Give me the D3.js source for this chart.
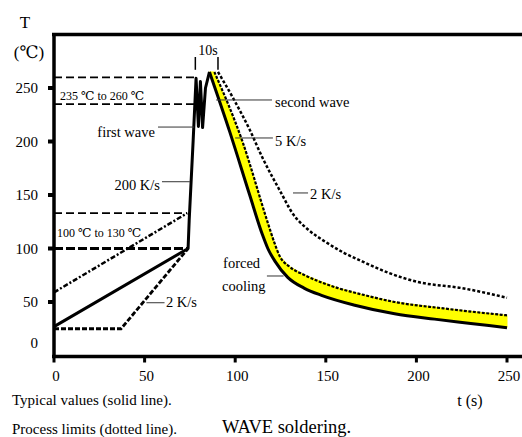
<!DOCTYPE html>
<html>
<head>
<meta charset="utf-8">
<script src="https://cdn.jsdelivr.net/npm/d3@7"></script>
<style>
  body { margin: 0; background: #fff; }
  svg text { font-family: Liberation Serif, Times New Roman, DejaVu Serif, serif; }
</style>
</head>
<body>
<div id="viz"></div>
<script>
// time ticks (s) and temperature ticks (degC)
var tTicks = [0, 50, 100, 150, 200, 250];
var tempTicks = [0, 50, 100, 150, 200, 250];

// typical profile (solid line): preheat, first wave, second wave, cooling
var typical = [[0, 27], [74, 100], [74.6, 126], [76.8, 201], [78.4, 259], [79.7, 214], [80.8, 256],
  [82, 213], [83.6, 250], [85.8, 265], [97, 209], [108, 150], [115, 113], [118, 100], [122, 88],
  [129, 73], [138, 63], [148, 56], [166, 47], [188, 39], [210, 34], [230, 30], [250, 26]];
var typicalPeak = 9; // index of the peak in typical

// process limits (dotted lines)
var fastPreheat = [[0, 59], [73.5, 133]];
var slowPreheat = [[0, 25], [37, 25], [74, 100]];
var cool5 = [[88.5, 265], [104, 200], [118, 124], [121.5, 106], [124.5, 93], [130, 83], [138.5, 75],
  [156.7, 63], [170, 57], [188, 50], [215, 44], [250, 37.5]];
var cool2 = [[90.5, 265], [100, 237], [108, 211], [115, 185], [125, 153], [132, 132], [140, 118],
  [150, 106], [160, 96], [170, 88], [185, 77], [200, 69], [225, 63], [250, 54]];

// dashed level lines (degC) and where they stop (s)
var levels = [260, 235, 133, 100];
var levelEnds = [78, 78, 73.5, 74];

// "10s" marker
var tenS = [78, 90.5];

var W = 522, H = 437;
var x = d3.scaleLinear().domain([0, 258]).range([54, 521.5]);
var y = d3.scaleLinear().domain([0, 300]).range([355.5, 34.5]);

var svg = d3.select("#viz").append("svg").attr("width", W).attr("height", H);

var lin = d3.line().x(function(d) { return x(d[0]); }).y(function(d) { return y(d[1]); });
var smooth = d3.line().x(function(d) { return x(d[0]); }).y(function(d) { return y(d[1]); }).curve(d3.curveMonotoneX);

// dashed levels
svg.selectAll("line.level").data(levels).enter().append("line")
  .attr("class", "level")
  .attr("x1", x(0)).attr("x2", function(d, i) { return x(levelEnds[i]); })
  .attr("y1", function(d) { return y(d); }).attr("y2", function(d) { return y(d); })
  .style("stroke", "#000")
  .style("stroke-width", function(d) { return d === 100 ? 3 : 1.8; })
  .style("stroke-dasharray", function(d) { return d === 100 ? "9,3" : "8,4"; });

// yellow band between typical cooling and 5 K/s limit
var band = typical.slice(typicalPeak).concat(cool5.slice().reverse());
svg.append("path").attr("d", lin(band) + "Z")
  .style("fill", "#ffff00").style("stroke", "#ffff00").style("stroke-width", 1);

// preheat limits
svg.append("path").attr("d", lin(fastPreheat))
  .style("fill", "none").style("stroke", "#000").style("stroke-width", 2.5)
  .style("stroke-dasharray", "5,2,2,2");
svg.append("path").attr("d", lin(slowPreheat))
  .style("fill", "none").style("stroke", "#000").style("stroke-width", 2.8)
  .style("stroke-dasharray", "5,2");

// cooling limits
svg.append("path").attr("d", smooth(cool5))
  .style("fill", "none").style("stroke", "#000").style("stroke-width", 2.2)
  .style("stroke-dasharray", "3,1.5");
svg.append("path").attr("d", smooth(cool2))
  .style("fill", "none").style("stroke", "#000").style("stroke-width", 2.5)
  .style("stroke-dasharray", "3,2");

// typical profile
svg.append("path").attr("d", lin(typical.slice(0, typicalPeak + 1)))
  .style("fill", "none").style("stroke", "#000").style("stroke-width", 3)
  .style("stroke-linejoin", "round");
svg.append("path").attr("d", smooth(typical.slice(typicalPeak)))
  .style("fill", "none").style("stroke", "#000").style("stroke-width", 3)
  .style("stroke-linejoin", "round");

// 10s marker
svg.selectAll("line.tens").data(tenS).enter().append("line")
  .attr("x1", function(d) { return x(d); }).attr("x2", function(d) { return x(d); })
  .attr("y1", y(279)).attr("y2", y(267))
  .style("stroke", "#000").style("stroke-width", 1.5);
svg.append("text").attr("x", x(85)).attr("y", y(281)).attr("text-anchor", "middle")
  .style("font-size", "14px").text("10s");

// frame and axes
svg.append("line").attr("x1", x(0) - 2).attr("x2", W).attr("y1", y(300)).attr("y2", y(300))
  .style("stroke", "#000").style("stroke-width", 3.5);
svg.append("line").attr("x1", x(0) - 2).attr("x2", W).attr("y1", y(0) + 1).attr("y2", y(0) + 1)
  .style("stroke", "#000").style("stroke-width", 3.5);
svg.append("line").attr("x1", x(0)).attr("x2", x(0)).attr("y1", y(300)).attr("y2", y(0) + 2)
  .style("stroke", "#000").style("stroke-width", 3.5);

svg.selectAll("rect.ytick").data(tempTicks.filter(function(d) { return d > 0; })).enter().append("rect")
  .attr("x", x(0) - 6).attr("y", function(d) { return y(d) - 2; })
  .attr("width", 6).attr("height", 4).style("fill", "#000");
svg.selectAll("text.ylab").data(tempTicks).enter().append("text")
  .attr("x", 38).attr("y", function(d) { return y(d) + 5; })
  .attr("dy", function(d) { return d === 0 ? -13 : 0; })
  .attr("text-anchor", "end").style("font-size", "15px")
  .text(function(d) { return d; });

svg.selectAll("rect.xtick").data(tTicks).enter().append("rect")
  .attr("x", function(d) { return x(d) - 1.5; }).attr("y", y(0) + 2)
  .attr("width", 3).attr("height", 5).style("fill", "#000");
svg.selectAll("text.xlab").data(tTicks).enter().append("text")
  .attr("x", function(d) { return x(d) + 2; }).attr("y", 381)
  .attr("text-anchor", "middle").style("font-size", "15px")
  .text(function(d) { return d; });

svg.append("text").attr("x", 25).attr("y", 28).attr("text-anchor", "middle")
  .style("font-size", "17px").text("T");
svg.append("text").attr("x", 29).attr("y", 58).attr("text-anchor", "middle")
  .style("font-size", "17px").text("(℃)");
svg.append("text").attr("x", 470).attr("y", 406).attr("text-anchor", "middle")
  .style("font-size", "16px").text("t (s)");

// annotations: [text, t, T, anchor]
var notes = [
  ["235 ℃ to 260 ℃", 3.3, 239, "start"],
  ["first wave", 55.7, 204, "end"],
  ["200 K/s", 58.5, 154.7, "end"],
  ["100 ℃ to 130 ℃", 1.7, 110.7, "start"],
  ["second wave", 122, 232, "start"],
  ["5 K/s", 122, 195.8, "start"],
  ["2 K/s", 141.3, 146.3, "start"],
  ["forced", 93.3, 81.8, "start"],
  ["cooling", 92.7, 60.3, "start"],
  ["2 K/s", 61.8, 45.3, "start"]
];
svg.selectAll("text.note").data(notes).enter().append("text")
  .attr("x", function(d) { return x(d[1]); }).attr("y", function(d) { return y(d[2]); })
  .attr("text-anchor", function(d) { return d[3]; })
  .style("font-size", function(d) { return d[0].indexOf("℃") >= 0 ? "12px" : "14.5px"; })
  .text(function(d) { return d[0]; });

// leader lines: [t1, t2, T]
var leaders = [[57.4, 77.3, 213.5], [59.6, 75, 162.4], [89.5, 120.3, 238.8], [100, 120.8, 203.3],
  [131.9, 140.2, 151.9], [117.5, 126.7, 74.3], [51, 61, 49.3]];
svg.selectAll("line.leader").data(leaders).enter().append("line")
  .attr("x1", function(d) { return x(d[0]); }).attr("x2", function(d) { return x(d[1]); })
  .attr("y1", function(d) { return y(d[2]); }).attr("y2", function(d) { return y(d[2]); })
  .style("stroke", "#333").style("stroke-width", 1);

// captions
svg.append("text").attr("x", 12).attr("y", 405).style("font-size", "15px").text("Typical values (solid line).");
svg.append("text").attr("x", 12).attr("y", 434).style("font-size", "15px").text("Process limits (dotted line).");
svg.append("text").attr("x", 222).attr("y", 433).style("font-size", "18.5px").text("WAVE soldering.");
</script>
</body>
</html>
